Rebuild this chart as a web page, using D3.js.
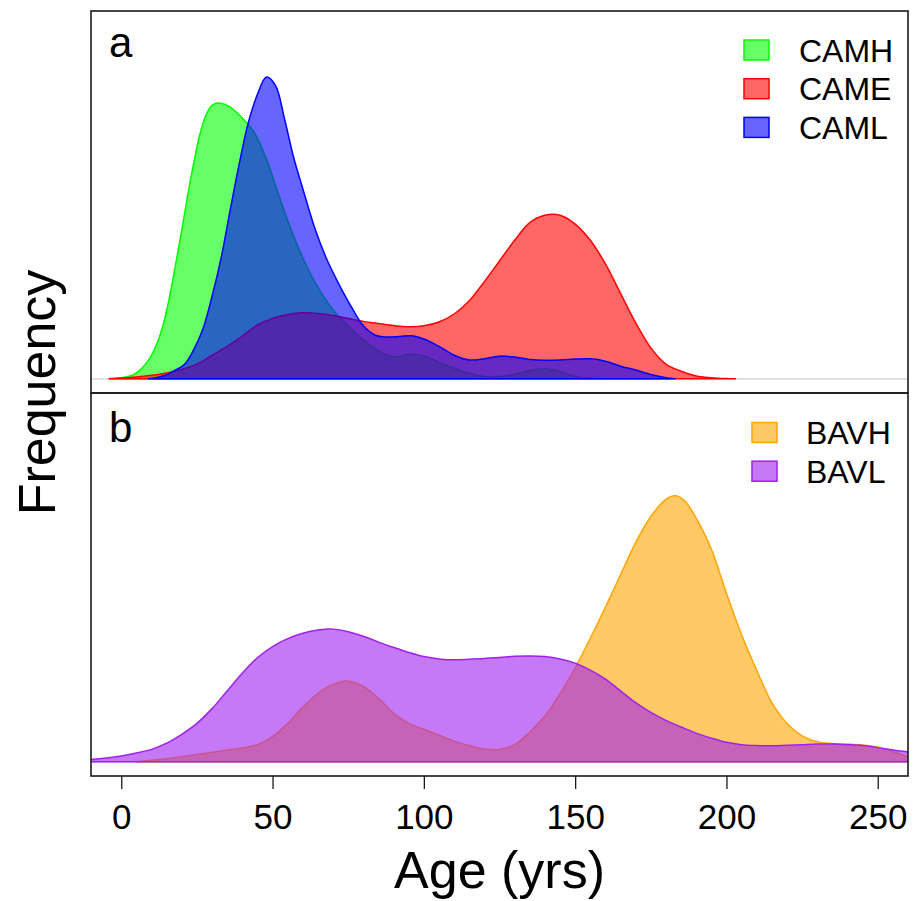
<!DOCTYPE html>
<html>
<head>
<meta charset="utf-8">
<script src="https://cdn.jsdelivr.net/npm/d3@7"></script>
<style>
  body { margin: 0; background: #fff; }
  svg { font-family: "Liberation Sans", Arial, sans-serif; }
</style>
</head>
<body>
<script>
// Age values (yrs) and relative frequency, one pair of arrays per group

// panel a
var camhAge = [-4, 0, 4, 6, 8, 10, 12, 14, 16, 18, 20, 22, 24, 26, 28, 30, 32, 34, 36, 40, 44, 48, 52, 56, 60, 65, 70, 75, 80, 85, 90, 95, 100, 105, 110, 115, 120, 125, 130, 135, 140, 145, 150, 155, 160]
var camhVal = [0, 0.004, 0.014, 0.028, 0.05, 0.08, 0.125, 0.19, 0.28, 0.39, 0.505, 0.625, 0.735, 0.83, 0.895, 0.928, 0.936, 0.932, 0.922, 0.885, 0.835, 0.745, 0.625, 0.51, 0.41, 0.31, 0.234, 0.18, 0.132, 0.095, 0.075, 0.083, 0.078, 0.056, 0.036, 0.018, 0.008, 0.008, 0.015, 0.028, 0.034, 0.025, 0.008, 0.002, 0]

var cameAge = [-4, 0, 5, 10, 15, 20, 25, 30, 35, 40, 45, 50, 55, 60, 65, 70, 75, 80, 85, 90, 95, 100, 105, 110, 115, 120, 125, 130, 135, 140, 145, 150, 155, 160, 165, 170, 175, 180, 185, 190, 195, 200, 203]
var cameVal = [0, 0.003, 0.006, 0.012, 0.02, 0.032, 0.05, 0.08, 0.11, 0.145, 0.183, 0.205, 0.218, 0.224, 0.222, 0.215, 0.205, 0.195, 0.188, 0.181, 0.177, 0.18, 0.193, 0.22, 0.265, 0.33, 0.4, 0.47, 0.53, 0.555, 0.555, 0.525, 0.47, 0.39, 0.29, 0.19, 0.105, 0.05, 0.026, 0.01, 0.004, 0.001, 0]

var camlAge = [9, 12, 15, 18, 21, 24, 27, 30, 33, 36, 39, 42, 45, 48, 51, 54, 57, 60, 64, 68, 72, 76, 80, 84, 88, 92, 96, 100, 105, 110, 115, 120, 125, 130, 135, 140, 145, 150, 155, 160, 165, 170, 175, 180, 183]
var camlVal = [0, 0.005, 0.014, 0.03, 0.05, 0.1, 0.17, 0.28, 0.41, 0.573, 0.73, 0.87, 0.965, 1.024, 0.995, 0.88, 0.75, 0.645, 0.51, 0.404, 0.32, 0.245, 0.18, 0.148, 0.142, 0.144, 0.146, 0.135, 0.11, 0.08, 0.064, 0.068, 0.077, 0.074, 0.066, 0.063, 0.064, 0.067, 0.068, 0.06, 0.043, 0.03, 0.015, 0.004, 0]

// panel b
var bavhAge = [5, 10, 15, 20, 25, 30, 35, 40, 45, 50, 55, 60, 65, 70, 75, 80, 85, 90, 95, 100, 105, 110, 115, 120, 125, 130, 135, 140, 145, 150, 155, 160, 165, 170, 175, 180, 183, 186, 190, 195, 200, 205, 210, 215, 220, 225, 230, 235, 240, 245, 250, 255, 260, 265]
var bavhVal = [0, 0.005, 0.01, 0.017, 0.025, 0.032, 0.04, 0.047, 0.058, 0.085, 0.13, 0.185, 0.232, 0.262, 0.273, 0.255, 0.215, 0.165, 0.13, 0.11, 0.09, 0.07, 0.055, 0.043, 0.042, 0.058, 0.1, 0.155, 0.23, 0.318, 0.418, 0.523, 0.633, 0.742, 0.83, 0.888, 0.9, 0.885, 0.825, 0.72, 0.57, 0.43, 0.31, 0.2, 0.13, 0.088, 0.068, 0.062, 0.06, 0.057, 0.05, 0.035, 0.017, 0.006]

var bavlAge = [-15, -10, -5, 0, 5, 10, 15, 20, 25, 30, 35, 40, 45, 50, 55, 60, 65, 70, 75, 80, 85, 90, 95, 100, 105, 110, 115, 120, 125, 130, 135, 140, 145, 150, 155, 160, 165, 170, 175, 180, 185, 190, 195, 200, 205, 210, 215, 220, 225, 230, 235, 240, 245, 250, 255, 260, 265]
var bavlVal = [0.003, 0.008, 0.013, 0.02, 0.03, 0.042, 0.063, 0.093, 0.13, 0.18, 0.24, 0.3, 0.352, 0.39, 0.417, 0.435, 0.446, 0.449, 0.44, 0.425, 0.405, 0.387, 0.37, 0.356, 0.348, 0.345, 0.347, 0.35, 0.353, 0.357, 0.358, 0.356, 0.348, 0.334, 0.31, 0.28, 0.24, 0.2, 0.167, 0.14, 0.118, 0.097, 0.08, 0.066, 0.058, 0.055, 0.054, 0.056, 0.058, 0.06, 0.06, 0.058, 0.055, 0.048, 0.04, 0.033, 0.025]

var xTicks = [0, 50, 100, 150, 200, 250]
var panelLabels = ['a', 'b']

var groupsA = [
  {name: 'CAMH', age: camhAge, val: camhVal, col: 'rgb(0,255,0)'},
  {name: 'CAME', age: cameAge, val: cameVal, col: 'rgb(255,0,0)'},
  {name: 'CAML', age: camlAge, val: camlVal, col: 'rgb(0,0,255)'}
]
var groupsB = [
  {name: 'BAVH', age: bavhAge, val: bavhVal, col: 'rgb(255,165,0)'},
  {name: 'BAVL', age: bavlAge, val: bavlVal, col: 'rgb(160,32,240)'}
]

var W = 913, H = 901
var left = 91, right = 908
var panels = [
  {top: 11, bottom: 393, groups: groupsA, label: panelLabels[0], labelY: 57,
   legX: 744, legTextX: 799, legY: 50},
  {top: 393, bottom: 776, groups: groupsB, label: panelLabels[1], labelY: 442,
   legX: 752, legTextX: 806, legY: 432.5}
]

var svg = d3.select('body').append('svg')
  .attr('width', W)
  .attr('height', H)

var x = d3.scaleLinear().domain([-10, 260]).range([left, right])

var defs = svg.append('defs')

panels.forEach(function(p, i) {
  // R style 4% padding on the y range
  var pad = (p.bottom - p.top) * 0.04 / 1.08
  var y = d3.scaleLinear().domain([0, 1.2]).range([p.bottom - pad, p.top + pad])

  defs.append('clipPath').attr('id', 'clip' + i)
    .append('rect')
    .attr('x', left).attr('y', p.top)
    .attr('width', right - left).attr('height', p.bottom - p.top)

  var g = svg.append('g').attr('clip-path', 'url(#clip' + i + ')')

  // zero line
  g.append('line')
    .attr('x1', left).attr('x2', right)
    .attr('y1', y(0)).attr('y2', y(0))
    .attr('stroke', '#cfcfcf')
    .attr('stroke-width', 1.2)

  var area = d3.area()
    .x(function(d) { return x(d[0]) })
    .y0(y(0))
    .y1(function(d) { return Math.min(y(d[1]), y(0)) })
    .curve(d3.curveCatmullRom.alpha(0.5))

  p.groups.forEach(function(grp) {
    var pts = d3.zip(grp.age, grp.val)
    var c = d3.color(grp.col)
    c.opacity = 0.6
    g.append('path')
      .attr('d', area(pts) + 'Z')
      .attr('fill', c.formatRgb())
      .attr('stroke', grp.col)
      .attr('stroke-width', 1.5)
      .attr('stroke-linejoin', 'round')
  })

  // frame
  svg.append('rect')
    .attr('x', left).attr('y', p.top)
    .attr('width', right - left).attr('height', p.bottom - p.top)
    .attr('fill', 'none')
    .attr('stroke', '#1a1a1a')
    .attr('stroke-width', 1.6)

  // panel letter
  svg.append('text')
    .attr('x', 109).attr('y', p.labelY)
    .attr('font-size', 42)
    .text(p.label)

  // legend
  var leg = svg.append('g')
  p.groups.forEach(function(grp, j) {
    var cy = p.legY + j * 38.7
    var c = d3.color(grp.col)
    c.opacity = 0.6
    leg.append('rect')
      .attr('x', p.legX).attr('y', cy - 10)
      .attr('width', 25).attr('height', 20)
      .attr('fill', c.formatRgb())
      .attr('stroke', grp.col)
      .attr('stroke-width', 1.5)
    leg.append('text')
      .attr('x', p.legTextX).attr('y', cy + 11.5)
      .attr('font-size', 32)
      .text(grp.name)
  })
})

// x axis under panel b
var xAxis = d3.axisBottom(x).tickValues(xTicks).tickSize(13).tickPadding(15)
var ax = svg.append('g')
  .attr('transform', 'translate(0,776)')
  .call(xAxis)
ax.select('.domain').remove()
ax.selectAll('.tick line').attr('stroke', '#1a1a1a').attr('stroke-width', 1.3)
ax.selectAll('.tick text')
  .attr('font-size', 35)
  .attr('font-family', '"Liberation Sans", Arial, sans-serif')
  .attr('fill', '#000')

svg.append('text')
  .attr('x', (left + right) / 2).attr('y', 888)
  .attr('text-anchor', 'middle')
  .attr('font-size', 52)
  .text('Age (yrs)')

svg.append('text')
  .attr('transform', 'translate(55,392.5) rotate(-90)')
  .attr('text-anchor', 'middle')
  .attr('font-size', 52)
  .text('Frequency')
</script>
</body>
</html>
